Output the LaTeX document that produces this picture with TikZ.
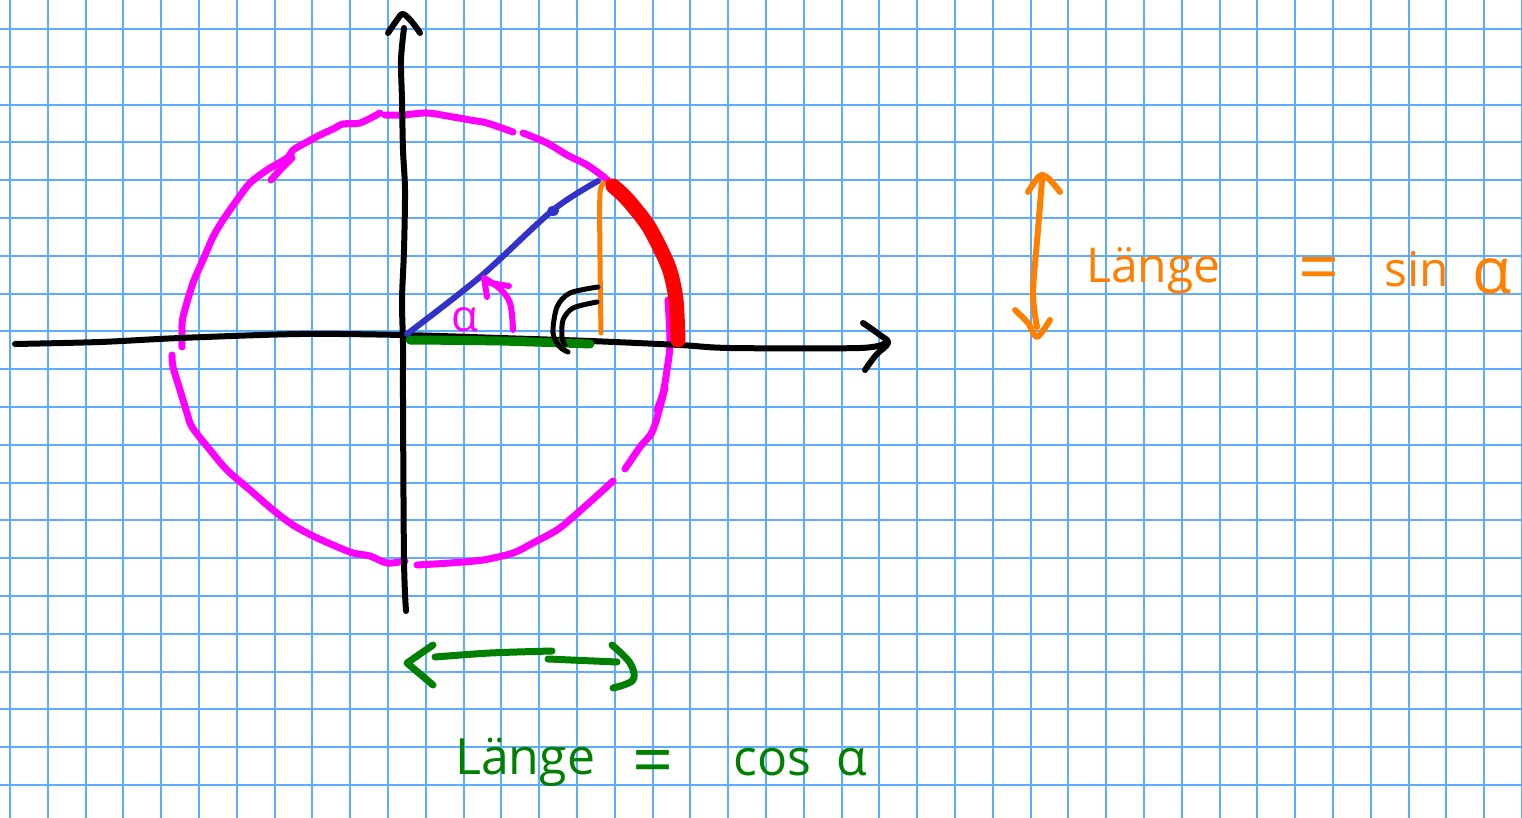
\documentclass[tikz,border=0pt]{standalone}
\usepackage{fontspec}
\setmainfont{Open Sans}
\definecolor{gridblue}{RGB}{92,172,255}
\definecolor{mag}{RGB}{255,0,255}
\definecolor{pblue}{RGB}{50,50,200}
\definecolor{porange}{RGB}{255,128,0}
\definecolor{pgreen}{RGB}{0,128,0}
\definecolor{pred}{RGB}{255,0,0}
\begin{document}
\begin{tikzpicture}[x=1pt,y=-1pt,
  pen/.style={line cap=round,line join=round},
  gridline/.style={gridblue,line width=2pt},
  axis/.style={pen,black,line width=6pt},
  circ/.style={pen,mag,line width=7pt},
  greenpen/.style={pen,pgreen,line width=7pt},
  orangepen/.style={pen,porange,line width=6pt},
  greentext/.style={pgreen,inner sep=0pt,font=\fontsize{50}{54}\selectfont},
  orangetext/.style={porange,inner sep=0pt,font=\fontsize{48}{52}\selectfont},
  eqsign/.style={inner sep=0pt,font=\fontsize{72}{76}\selectfont}]
\fill[white] (0,0) rectangle (1522,818);
\useasboundingbox (0,0) rectangle (1522,818);
% grid paper
\foreach \i in {0,...,40} \draw[gridline] ({10+37.8*\i},0) -- ({10+37.8*\i},818);
\foreach \j in {0,...,20} \draw[gridline] (0,{29+37.8*\j}) -- (1522,{29+37.8*\j});
% unit circle (hand drawn, in strokes)
\draw[circ] plot[smooth,tension=0.5] coordinates {(182,347) (182,333) (183,317) (193,283) (203,260) (213,237) (223,220) (237,200) (250,183) (267,170) (287,158) (293,150) (307,142) (320,135) (333,129) (343,124) (360,123) (380,113)};
\draw[circ] (271,180) -- (280,170) -- (292,158);
\draw[circ] plot[smooth,tension=0.5] coordinates {(385,115) (403,115) (427,113) (453,117) (470,120) (487,123) (513,132)};
\draw[circ] plot[smooth,tension=0.5] coordinates {(523,133) (547,143) (567,155) (587,165) (605,178) (612,186)};
\draw[circ] plot[smooth,tension=0.5] coordinates {(668,300) (670,343) (667,370) (663,393) (657,410)};
\draw[circ] plot[smooth,tension=0.5] coordinates {(665,388) (653,430) (640,447) (625,469)};
\draw[circ] plot[smooth,tension=0.5] coordinates {(613,481) (600,493) (573,517) (557,530) (533,543) (513,553) (483,560) (450,563) (417,565)};
\draw[circ] plot[smooth,tension=0.5] coordinates {(405,561) (387,563) (370,556) (353,553) (333,545) (313,536) (293,525) (273,510) (250,490) (227,470) (210,450) (192,427) (187,413) (180,390) (173,367) (172,355)};
% axes
\draw[axis] plot[smooth,tension=0.5] coordinates {(15,344) (100,342) (180,338) (300,334) (403,335) (500,338) (590,341) (680,345) (730,348) (860,348) (885,343)};
\draw[axis] plot[smooth,tension=0.6] coordinates {(863,323) (880,335) (888,343) (876,355) (865,370)};
\draw[axis] plot[smooth,tension=0.5] coordinates {(406,611) (404,560) (403,400) (403,345) (402,300) (404,250) (405,190) (403,150) (402,100) (401,60) (404,28)};
\draw[axis] plot[smooth,tension=0.6] coordinates {(388,33) (397,20) (403,14) (412,22) (420,33)};
% cosine segment (green)
\draw[pen,pgreen,line width=9pt] plot[smooth,tension=0.5] coordinates {(410,340) (500,341) (590,344)};
% radius (blue)
\draw[pen,pblue,line width=6pt] plot[smooth,tension=0.5] coordinates {(407,334) (480,277) (553,210) (598,181)};
\fill[pblue] (553,211) ellipse (6 and 5);
% sine segment (orange)
\draw[orangepen,line width=5pt] plot[smooth,tension=0.5] coordinates {(601,333) (600,260) (600,193) (605,183)};
% arc (red)
\draw[pen,pred,line width=15pt] plot[smooth,tension=0.5] coordinates {(613,186) (627,199) (647,224) (660,248) (670,271) (676,300) (678,340)};
\draw[pen,pred,line width=9pt] (610,183) -- (620,192);
% right angle marks
\draw[pen,black,line width=5pt] plot[smooth,tension=0.5] coordinates {(598,287) (570,293) (557,307) (553,333) (560,347) (568,352)};
\draw[pen,black,line width=5pt] plot[smooth,tension=0.5] coordinates {(597,302) (573,308) (563,320) (562,337) (565,345)};
% angle alpha
\draw[pen,mag,line width=6pt] plot[smooth,tension=0.6] coordinates {(513,330) (510,303) (499,288) (484,278)};
\draw[pen,mag,line width=6pt] (484,278) -- (487,297);
\draw[pen,mag,line width=6pt] (490,283) -- (509,286);
\node[mag,inner sep=0pt,anchor=base west,font=\fontsize{44}{48}\selectfont] (alpha) at (451,331) {α};
% green double arrow
\draw[greenpen] (433,685) -- (407,663) -- (433,645);
\draw[greenpen] plot[smooth,tension=0.5] coordinates {(435,657) (490,653) (552,651)};
\draw[greenpen] (548,659) -- (617,662);
\draw[greenpen] plot[smooth,tension=0.6] coordinates {(612,645) (630,663) (633,680) (613,688)};
% green label
\node[greentext,anchor=base west] (cl) at (455,774) {Länge};
\node[greentext,eqsign,anchor=base west] (ceq) at (632,785) {=};
\node[greentext,anchor=base west] (ccos) at (733,775) {cos};
\node[greentext,anchor=base west] (calpha) at (836,775) {α};
% orange double arrow
\draw[orangepen] plot[smooth,tension=0.6] coordinates {(1028,192) (1036,180) (1042,175) (1050,180) (1060,192)};
\draw[orangepen] plot[smooth,tension=0.5] coordinates {(1042,180) (1038,230) (1033,293) (1037,327)};
\draw[orangepen] plot[smooth,tension=0.5] coordinates {(1015,310) (1028,323) (1037,337) (1050,320)};
% orange label
\node[orangetext,anchor=base west] (sl) at (1086,283) {Länge};
\node[orangetext,eqsign,anchor=base west] (seq) at (1298,292) {=};
\node[orangetext,anchor=base west] (ssin) at (1384,286) {sin};
\node[porange,inner sep=0pt,anchor=base west,font=\fontsize{64}{68}\selectfont] (salpha) at (1472,293) {α};
\end{tikzpicture}
\end{document}
